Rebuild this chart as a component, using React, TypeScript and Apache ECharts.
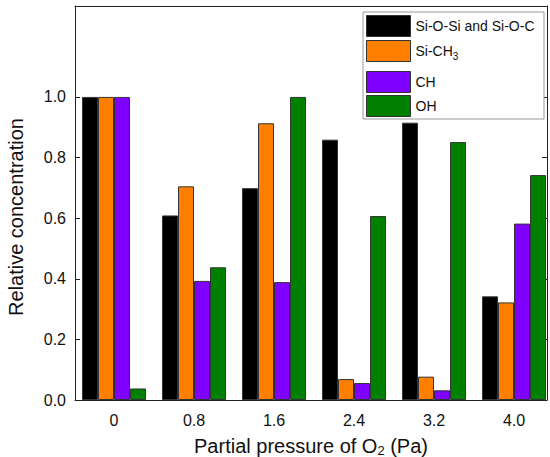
import React, { useEffect, useRef } from "react";
import * as echarts from "echarts";

const categories = ["0", "0.8", "1.6", "2.4", "3.2", "4.0"];
const seriesNames = ["Si-O-Si and Si-O-C", "Si-CH3", "CH", "OH"];
const siOSi = [1.0, 0.609, 0.699, 0.859, 0.915, 0.342];
const siCH3 = [1.0, 0.705, 0.913, 0.069, 0.077, 0.322];
const ch = [1.0, 0.393, 0.389, 0.056, 0.032, 0.582];
const oh = [0.038, 0.438, 1.0, 0.607, 0.851, 0.742];
const yTicks = [0, 0.2, 0.4, 0.6, 0.8, 1.0];
const yTitle = "Relative concentration";

const colors = ["#000000", "#FF8000", "#8000FF", "#008000"];
const FONT = "'Liberation Sans', Arial, sans-serif";

export default function App() {
  const ref = useRef<HTMLDivElement>(null);
  useEffect(() => {
    if (!ref.current) return;
    const chart = echarts.init(ref.current, undefined, { renderer: "svg" });
    const values = [siOSi, siCH3, ch, oh];
    const xIdx = categories.map((_, i) => i);
    const legendTops = [15, 40, 71, 95];
    const legendText = (name: string) =>
      name === "Si-CH3" ? "{n|Si-CH}{s|3}" : "{n|" + name + "}";

    chart.setOption({
      animation: false,
      textStyle: { fontFamily: FONT },
      grid: { left: 75, right: 3, top: 6, bottom: 57, containLabel: false, outerBoundsMode: "none" },
      xAxis: [
        {
          type: "value",
          min: -0.4875,
          max: 5.4125,
          position: "bottom",
          axisLine: { show: true, onZero: false, lineStyle: { color: "#222", width: 1 } },
          axisTick: { show: false },
          splitLine: { show: false },
          axisLabel: {
            customValues: xIdx,
            formatter: (v: number) => categories[Math.round(v)] ?? "",
            fontSize: 16,
            color: "#111",
            margin: 12,
            fontFamily: FONT,
          },
          name: "{n|Partial pressure of O}{s|2}{n| (Pa)}",
          nameLocation: "middle",
          nameGap: 35,
          nameTextStyle: {
            fontFamily: FONT,
            color: "#111",
            rich: {
              n: { fontSize: 20, fontFamily: FONT, color: "#111" },
              s: { fontSize: 13, fontFamily: FONT, color: "#111", padding: [9, 0, 0, 0] },
            },
          },
        },
        {
          type: "value",
          min: -0.4875,
          max: 5.4125,
          position: "top",
          axisLine: { show: true, onZero: false, lineStyle: { color: "#222", width: 1 } },
          axisTick: { show: false },
          axisLabel: { show: false },
          splitLine: { show: false },
        },
      ],
      yAxis: [
        {
          type: "value",
          min: 0,
          max: 1.3,
          position: "left",
          axisLine: { show: true, onZero: false, lineStyle: { color: "#222", width: 1 } },
          axisTick: { show: true, inside: true, length: 5, customValues: yTicks, lineStyle: { color: "#222" } },
          splitLine: { show: false },
          axisLabel: {
            customValues: yTicks,
            formatter: (v: number) => v.toFixed(1),
            fontSize: 16,
            color: "#111",
            margin: 9,
            fontFamily: FONT,
          },
        },
        {
          type: "value",
          min: 0,
          max: 1.3,
          position: "right",
          axisLine: { show: true, onZero: false, lineStyle: { color: "#222", width: 1 } },
          axisTick: { show: true, inside: true, length: 5, customValues: yTicks, lineStyle: { color: "#222" } },
          axisLabel: { show: false },
          splitLine: { show: false },
        },
      ],
      graphic: [
        {
          type: "rect",
          shape: { x: 363, y: 12, width: 181, height: 107 },
          style: { fill: "#fff", stroke: "#999", lineWidth: 1 },
          z: 10,
        },
        {
          type: "text",
          x: 16,
          y: 217,
          rotation: Math.PI / 2,
          style: {
            text: yTitle,
            fontSize: 20,
            fontFamily: FONT,
            fill: "#111",
            align: "center",
            verticalAlign: "middle",
          },
        },
      ],
      legend: seriesNames.map((name, i) => ({
        data: [name],
        left: 366,
        top: legendTops[i],
        padding: 0,
        orient: "vertical",
        itemWidth: 44,
        itemHeight: 21,
        icon: "rect",
        selectedMode: false,
        z: 20,
        itemStyle: { borderColor: "#333", borderWidth: 1 },
        formatter: legendText,
        textStyle: {
          fontFamily: FONT,
          rich: {
            n: { fontSize: 14, fontFamily: FONT, color: "#111" },
            s: { fontSize: 10, fontFamily: FONT, color: "#111", padding: [10, 0, 0, 0] },
          },
        },
      })),
      series: seriesNames.map((name, si) => ({
        name,
        type: "bar",
        xAxisIndex: 0,
        yAxisIndex: 0,
        barWidth: 16,
        barGap: "0%",
        itemStyle: { color: colors[si], borderColor: "#333", borderWidth: 1 },
        data: values[si].map((v, i) => [xIdx[i], v]),
      })),
    });
    return () => chart.dispose();
  }, []);
  return (
    <div
      ref={ref}
      style={{ position: "absolute", left: 0, top: 0, width: 550, height: 457 }}
    />
  );
}
